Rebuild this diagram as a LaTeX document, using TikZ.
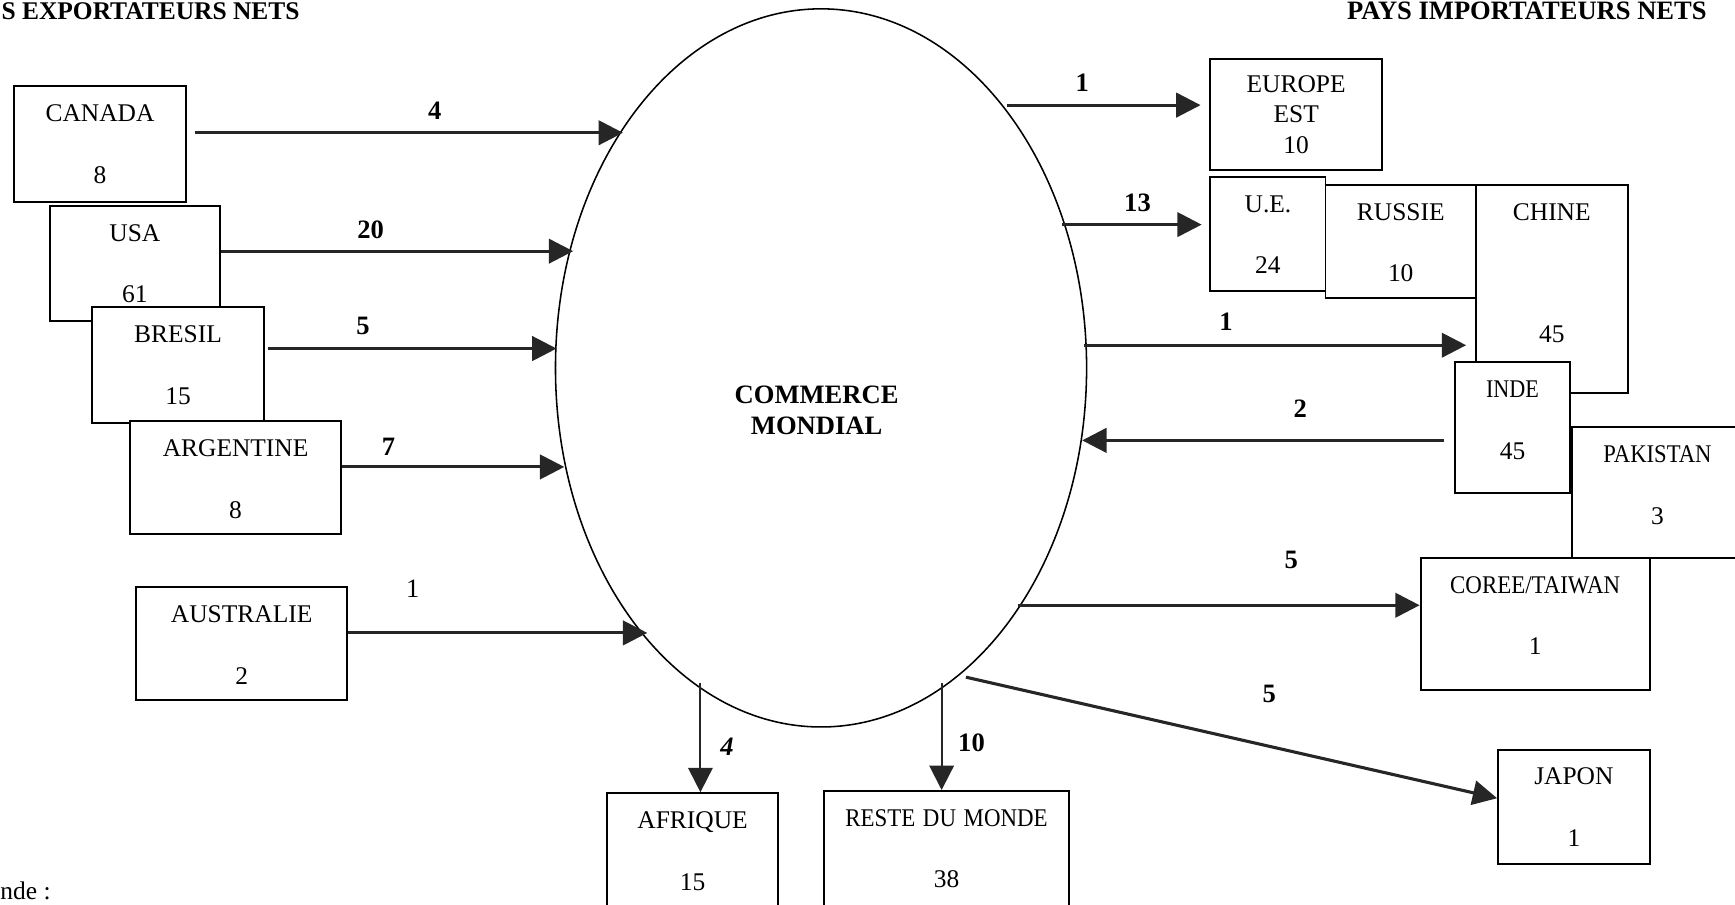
\documentclass[tikz,border=0pt]{standalone}
\usepackage{fontspec}
\setmainfont{Liberation Serif}
\usepackage{graphicx}
\usetikzlibrary{arrows.meta,shapes.geometric}

\begin{document}
\begin{tikzpicture}[
            x=0.5pt, y=-0.5pt,
            box/.style={draw, line width=0.9pt, fill=white, inner sep=0pt, anchor=north west, align=center, text height=16pt, font=\fontsize{11.5}{27.75}\selectfont},
            flow/.style={draw=black!85, line width=1.4pt, -{Triangle[length=11pt, width=11pt]}},
            thinflow/.style={flow, line width=0.9pt},
            qty/.style={font=\fontsize{12}{14}\selectfont\bfseries},
            heading/.style={font=\fontsize{12}{14}\selectfont\bfseries, inner sep=0pt}
        ]
        \useasboundingbox (0,0) rectangle (1568,817);
        \clip (0,0) rectangle (1568,817);

        \node[heading, anchor=base west, font=\fontsize{11.5}{14}\selectfont\bfseries] (exporters) at (1,18) {S EXPORTATEURS NETS};
        \node[heading, anchor=base west] (importers) at (1217,18) {PAYS IMPORTATEURS NETS};
        \node[anchor=base west, inner sep=0pt, font=\fontsize{11.5}{14}\selectfont] (legend) at (0,813) {nde :};

        \node[draw, ellipse, line width=0.7pt, minimum width=240pt, minimum height=324.5pt, inner sep=0pt] (comm) at (742,332.5) {};
        \node[heading, align=center] (commlabel) at (738,371) {COMMERCE\\MONDIAL};

        \node[box, text width=77.5pt, text depth=36.5pt] (canada) at (12,77) {CANADA\\8};
        \node[box, text width=77pt, text depth=36pt] (usa) at (44,185) {USA\\61};
        \node[box, text width=78pt, text depth=36pt] (bresil) at (82,277) {BRESIL\\15};
        \node[box, text width=95pt, text depth=35pt] (argentine) at (117,380) {ARGENTINE\\8};
        \node[box, text width=95.5pt, text depth=35pt] (australie) at (122,530) {AUSTRALIE\\2};

        \node[box, text width=77pt, text depth=36.5pt] (afrique) at (548,716) {AFRIQUE\\15};
        \node[box, text width=110.5pt, text depth=36.5pt] (reste) at (744,714) {\scalebox{0.9}[1]{RESTE DU MONDE}\\38};

        \node[box, text width=77.5pt, text height=15.25pt, text depth=35.25pt, font=\fontsize{11.5}{13.75}\selectfont] (europe) at (1093,52) {EUROPE\\EST\\10};
        \node[box, text width=52pt, text depth=35.5pt] (ue) at (1093,159) {U.E.\\24};
        \node[box, text width=68pt, text depth=35pt] (russie) at (1197,166) {RUSSIE\\10};
        \node[box, text width=68.5pt, text depth=78pt] (chine) at (1333,166) {CHINE\\[27.75pt]45};
        \node[box, text width=52pt, text height=16.25pt, text depth=43.25pt] (inde) at (1314,326) {\scalebox{0.87}[1]{INDE}\\45};
        \node[box, text width=77pt, text height=16.25pt, text depth=42.75pt] (pakistan) at (1420,385) {\scalebox{0.89}[1]{PAKISTAN}\\3};
        \node[box, text width=103.5pt, text height=16.25pt, text depth=43.75pt] (coree) at (1283,503) {\scalebox{0.9}[1]{COREE/TAIWAN}\\1};
        \node[box, text width=68.5pt, text height=15.75pt, text depth=35.75pt] (japon) at (1353,677) {JAPON\\1};

        \coordinate (in1) at (563,120);
        \coordinate (in2) at (518,227);
        \coordinate (in3) at (503,315);
        \coordinate (in4) at (510,422);
        \coordinate (in5) at (585,572);
        \coordinate (in6) at (978,398);
        \coordinate (out1) at (910,95);
        \coordinate (out2) at (960,203);
        \coordinate (out3) at (980,312);
        \coordinate (out4) at (920,547);
        \coordinate (out5) at (873,612);
        \coordinate (out6) at (633,617);
        \coordinate (out7) at (851,617);

        \draw[flow, shorten <=3.5pt] (canada.east |- in1) -- (in1);
        \draw[flow] (usa.east |- in2) -- (in2);
        \draw[flow, shorten <=1pt] (bresil.east |- in3) -- (in3);
        \draw[flow] (argentine.east |- in4) -- (in4);
        \draw[flow] (australie.east |- in5) -- (in5);
        \draw[flow, shorten >=4pt] (out1) -- (europe.west |- out1);
        \draw[flow, shorten >=3.5pt] (out2) -- (ue.west |- out2);
        \draw[flow, shorten >=4pt] (out3) -- (chine.west |- out3);
        \draw[flow, shorten <=4.5pt] (inde.west |- in6) -- (in6);
        \draw[flow] (out4) -- (coree.west |- out4);
        \draw[flow] (out5) -- ([yshift=4pt]japon.west);
        \draw[thinflow] (out6) -- (out6 |- afrique.north);
        \draw[thinflow] (out7) -- (out7 |- reste.north);

        \node[qty] (qcanada) at (393,100) {4};
        \node[qty] (qusa) at (335,208) {20};
        \node[qty] (qbresil) at (328,295) {5};
        \node[qty] (qargentine) at (351,404) {7};
        \node[font=\fontsize{12}{14}\selectfont] (qaustralie) at (373,532) {1};
        \node[qty, font=\fontsize{12}{14}\selectfont\bfseries\itshape] (qafrique) at (657,675) {4};
        \node[qty] (qreste) at (878,671) {10};
        \node[qty] (qeurope) at (978,75) {1};
        \node[qty] (que) at (1028,183) {13};
        \node[qty] (qchine) at (1108,291) {1};
        \node[qty] (qinde) at (1175,369) {2};
        \node[qty] (qcoree) at (1167,506) {5};
        \node[qty] (qjapon) at (1147,627) {5};
    \end{tikzpicture}
\end{document}
